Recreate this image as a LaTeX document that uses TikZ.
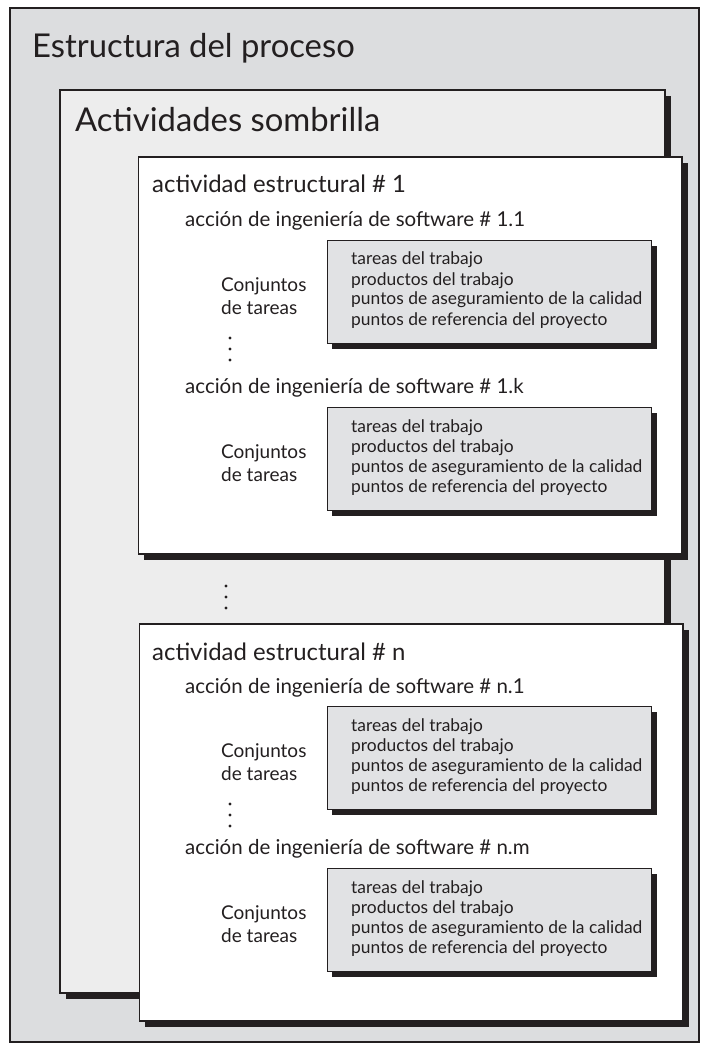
\documentclass[tikz,border=0pt]{standalone}
\usepackage{fontspec}
\setmainfont{Lato}
\usetikzlibrary{shadows}
\definecolor{ink}{HTML}{231F20}
\definecolor{outerg}{HTML}{DCDDDF}
\definecolor{umbg}{HTML}{EDEDED}
\definecolor{taskg}{HTML}{E1E2E4}
\newcommand\tareabox[2]{%
  \node[taskbox] (#1) at (326.5,#2) {};
  \node[listtxt] (#1-l1) at (351,#2+25) {tareas del trabajo};
  \node[listtxt] (#1-l2) at (351,#2+45) {productos del trabajo};
  \node[listtxt] (#1-l3) at (351,#2+65) {puntos de aseguramiento de la calidad};
  \node[listtxt] (#1-l4) at (351,#2+85) {puntos de referencia del proyecto};
  \node[conjtxt] (#1-c1) at (221,#2+51) {Conjuntos};
  \node[conjtxt] (#1-c2) at (221,#2+74) {de tareas};
}
\newcommand\vdotsat[3]{%
  \fill[ink] (#1,#2) circle (1.6pt) (#1,#2+#3) circle (1.6pt) (#1,#2+2*#3) circle (1.6pt);
}
\begin{document}
\begin{tikzpicture}[x=1pt,y=-1pt,
  panel/.style={draw=ink, line width=1.6pt, anchor=north west, inner sep=0pt},
  shadowed/.style={drop shadow={shadow xshift=6pt, shadow yshift=-6pt, fill=ink, opacity=1}},
  taskbox/.style={panel, fill=taskg, minimum width=324.5pt, minimum height=103pt, line width=1.4pt,
     drop shadow={shadow xshift=5pt, shadow yshift=-5pt, fill=ink, opacity=1}},
  actbox/.style={panel, shadowed, fill=white, minimum width=543.5pt, minimum height=397pt},
  txt/.style={anchor=base west, inner sep=0pt, text=ink},
  bigtxt/.style={txt, font=\fontsize{32.8}{38}\selectfont},
  headtxt/.style={txt, font=\fontsize{23.9}{28}\selectfont},
  acttxt/.style={txt, font=\fontsize{20.5}{24}\selectfont},
  conjtxt/.style={txt, font=\fontsize{19}{22}\selectfont},
  listtxt/.style={txt, font=\fontsize{17.4}{20}\selectfont}]
\useasboundingbox (0,0) rectangle (705,1048);
\fill[white] (0,0) rectangle (705,1048);
% outer
\node[panel, fill=outerg, line width=2pt, minimum width=689pt, minimum height=1034pt] (outer) at (8.5,7) {};
\node[bigtxt] (ttl) at (32,58) {Estructura del proceso};
% umbrella
\node[panel, shadowed, fill=umbg, minimum width=605pt, minimum height=903pt] (umb) at (59,89) {};
\node[bigtxt] (umbt) at (75,132) {Actividades sombrilla};
% activity 1
\node[actbox] (act1) at (137.5,156) {};
\node[headtxt] (act1t) at (152,193) {actividad estructural \# 1};
\node[acttxt] (a11) at (185,227) {acción de ingeniería de software \# 1.1};
\tareabox{b1}{240}
\vdotsat{230}{338}{11}
\node[acttxt] (a1k) at (185,393) {acción de ingeniería de software \# 1.k};
\tareabox{b2}{407}
% between
\vdotsat{226}{586}{11}
% activity n
\node[actbox] (actn) at (138.5,623) {};
\node[headtxt] (actnt) at (152,660) {actividad estructural \# n};
\node[acttxt] (an1) at (185,693) {acción de ingeniería de software \# n.1};
\tareabox{b3}{706}
\vdotsat{230}{804}{11}
\node[acttxt] (anm) at (185,854) {acción de ingeniería de software \# n.m};
\tareabox{b4}{868}
\end{tikzpicture}
\end{document}
